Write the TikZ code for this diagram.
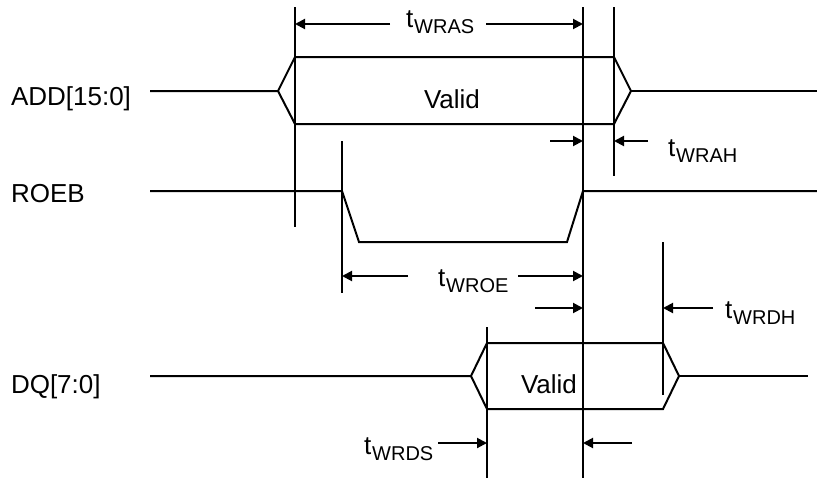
\documentclass[tikz,border=0pt]{standalone}
\usepackage{fontspec}
\setmainfont{Liberation Sans}
\usetikzlibrary{arrows.meta}

\newcommand{\tsig}[1]{t\kern1pt\raisebox{-6pt}{\fontsize{20}{20}\selectfont #1}}

\begin{document}
\begin{tikzpicture}[x=1pt, y=-1pt, line width=2pt,
				   every node/.style={font=\fontsize{26}{30}\selectfont, inner sep=0pt, anchor=base west},
				   dim/.style={-{Triangle[length=10pt,width=10pt]}, line width=2pt},
				   wave/.style={line join=miter, miter limit=4}]
\useasboundingbox (0,0) rectangle (817,480);

\node (add) at (10,105) {ADD[15:0]};
\node (roeb) at (10,202) {ROEB};
\node (dq) at (10,393) {DQ[7:0]};

\draw[wave] (150,91) -- (278,91) -- (295,57) -- (614,57) -- (631,91) -- (614,124) -- (295,124) -- (278,91);
\draw[wave] (631,91) -- (817,91);
\node[anchor=base] (addvalid) at (452,108) {Valid};

\draw[wave] (150,191) -- (342,191) -- (359,242) -- (567,242) -- (583,191) -- (817,191);

\draw[wave] (150,376) -- (471,376) -- (487,343) -- (663,343) -- (679,376) -- (663,409) -- (487,409) -- (471,376);
\draw[wave] (679,376) -- (808,376);
\node[anchor=base] (dqvalid) at (549,393) {Valid};

\draw (295,7) -- (295,227);
\draw (583,7) -- (583,478);
\draw (614,7) -- (614,176);
\draw (342,141) -- (342,293);
\draw (487,327) -- (487,478);
\draw (663,242) -- (663,395);

\draw[dim] (390,24) -- (295,24);
\draw[dim] (486,24) -- (583,24);
\node (wras) at (405,27) {\tsig{WRAS}};

\draw[dim] (550,141) -- (583,141);
\draw[dim] (648,141) -- (614,141);
\node (wrah) at (667,156) {\tsig{WRAH}};

\draw[dim] (408,276) -- (342,276);
\draw[dim] (518,276) -- (583,276);
\node (wroe) at (437,286) {\tsig{WROE}};

\draw[dim] (535,308) -- (583,308);
\draw[dim] (713,308) -- (663,308);
\node (wrdh) at (724,318) {\tsig{WRDH}};

\draw[dim] (438,443) -- (487,443);
\draw[dim] (632,443) -- (583,443);
\node (wrds) at (363,454) {\tsig{WRDS}};
\end{tikzpicture}
\end{document}
